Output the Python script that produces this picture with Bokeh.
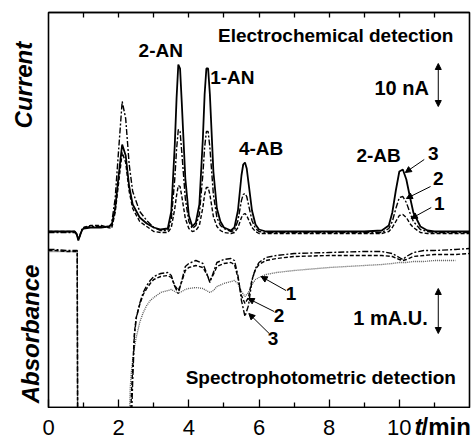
import math
from bokeh.plotting import figure
from bokeh.layouts import column, row
from bokeh.models import (Range1d, LinearAxis, FixedTicker, Label, Arrow,
                          NormalHead, ColumnDataSource)
from bokeh.core.properties import value
from bokeh.embed import file_html
from bokeh.resources import INLINE

nan = float("nan")

# ---------------- data (arbitrary signal units) -------------
# Electrochemical detection (upper trace block)
t_ec = [0, 0.5, 0.75, 0.8, 0.85, 0.9, 0.95, 1.0, 1.2, 1.5,
        1.7, 1.8, 1.9, 2.0, 2.1, 2.2, 2.3, 2.4, 2.6, 2.8,
        3.0, 3.2, 3.4, 3.5, 3.6, 3.65, 3.7, 3.75, 3.8, 3.9,
        4.0, 4.1, 4.2, 4.3, 4.4, 4.45, 4.5, 4.55, 4.6, 4.7,
        4.8, 4.9, 5.0, 5.2, 5.3, 5.4, 5.5, 5.55, 5.6, 5.65,
        5.7, 5.8, 5.9, 6.0, 6.2, 6.5, 7.0, 8.0, 9.0, 9.5,
        9.7, 9.8, 9.9, 10.0, 10.1, 10.2, 10.3, 10.4, 10.6, 10.8,
        11.0, 11.5, 12.0]
ec_3 = [176, 176, 176, 174, 167, 172, 177, 179, 180, 180,
        181, 182, 199, 232, 263, 252, 221, 203, 190, 184,
        180, 178, 179, 196, 263, 309, 343, 339, 304, 229,
        192, 181, 185, 203, 269, 313, 339, 339, 313, 236,
        199, 186, 180, 177, 180, 197, 232, 243, 245, 239,
        225, 197, 183, 178, 176, 176, 176, 176, 176, 177,
        182, 195, 217, 236, 238, 228, 211, 195, 181, 177,
        176, 176, 176]
ec_2 = [175, 175, 175, 173, 168, 173, 178, 180, 181, 181,
        180, 184, 209, 258, 306, 289, 243, 216, 196, 187,
        180, 177, 177, 188, 229, 258, 278, 276, 255, 209,
        186, 179, 182, 193, 233, 260, 276, 276, 260, 213,
        190, 182, 179, 176, 177, 187, 207, 213, 214, 211,
        203, 187, 179, 176, 175, 175, 175, 175, 175, 175,
        179, 186, 199, 210, 211, 205, 195, 186, 178, 176,
        175, 175, 175]
ec_1 = [176, 176, 176, 174, 168, 172, 177, 180, 182, 182,
        180, 179, 195, 225, 255, 245, 216, 199, 186, 181,
        176, 175, 175, 180, 199, 212, 222, 221, 211, 189,
        179, 176, 177, 182, 200, 213, 220, 220, 213, 191,
        181, 177, 175, 174, 175, 180, 190, 193, 194, 192,
        188, 180, 176, 174, 174, 174, 174, 174, 174, 174,
        176, 180, 186, 192, 193, 190, 184, 180, 175, 174,
        174, 174, 174]

# Spectrophotometric detection (lower trace block)
t_uv = [0, 0.2, 0.5, 0.82, 0.83, 1.5, 2.3, 2.33, 2.36, 2.4,
        2.45, 2.5, 2.6, 2.7, 2.8, 2.9, 3.0, 3.2, 3.4, 3.5,
        3.6, 3.7, 3.8, 3.9, 4.0, 4.2, 4.4, 4.5, 4.6, 4.7,
        4.8, 5.0, 5.2, 5.3, 5.4, 5.5, 5.6, 5.7, 5.8, 5.9,
        6.0, 6.2, 6.5, 7.0, 8.0, 9.0, 9.5, 9.8, 10.0, 10.1,
        10.2, 10.4, 10.7, 11.0, 11.6, 12.0]
uv_3 = [158, 158, 157, 157, -20, -20, -20, -20, -20, 27,
        72, 89, 104, 115, 122, 127, 131, 134, 135, 132,
        121, 114, 127, 141, 144, 147, 144, 135, 125, 135,
        145, 148, 149, 147, 132, 107, 91, 102, 127, 139,
        145, 150, 152, 154, 155, 156, 156, 154, 150, 148,
        151, 155, 157, 157, 158, 159]
uv_2 = [157, 157, 156, 156, -20, -20, -20, -20, 10, 40,
        75, 90, 103, 113, 119, 124, 128, 131, 132, 130,
        122, 117, 126, 137, 140, 142, 140, 134, 127, 133,
        141, 144, 145, 143, 130, 112, 104, 110, 128, 138,
        143, 147, 149, 151, 152, 152, 152, 151, 148, 147,
        148, 151, 152, 153, 153, 154]
uv_1 = [156, 156, 156, 156, -20, -20, -20, 20, 35, 48,
        60, 70, 85, 95, 102, 107, 110, 115, 117, 118,
        116, 114, 116, 118, 119, 120, 119, 117, 115, 117,
        121, 124, 126, 127, 124, 116, 111, 115, 123, 128,
        130, 133, 135, 137, 140, 142, 143, 144, 145, 145,
        145, 146, 146, 147, 147, nan]

x_ticks = [0, 2, 4, 6, 8, 10]
x_tick_labels = ["0", "2", "4", "6", "8", "10"]
x_minor = [1, 3, 5, 7, 9, 11]
top_ticks = [1, 2, 3, 4, 5, 6, 7, 8, 9, 10, 11]

# ---------------- layout geometry ----------------------------------------------------
FONT = "Liberation Sans"
W, H = 473, 439
LEFT = 48          # page x of the frame's left edge
RIGHT = 4          # space right of the frame
TOP = 12
MAIN_H = 408       # frame bottom at page y 407
STRIP = H - MAIN_H # bottom label strip
X0, X1 = 0.0, 12.0
PX_PER_MIN = (W - LEFT - RIGHT) / (X1 - X0)
LABEL_MID = 427    # page y of the middle of the bottom labels

# ---------------- main figure --------------------------------------------------------
p = figure(width=W - LEFT + 1, height=MAIN_H, output_backend="svg",
           toolbar_location=None, y_axis_location=None,
           x_range=Range1d(X0, X1), y_range=Range1d(0, 395),
           min_border_left=1, min_border_right=RIGHT, min_border_top=TOP,
           min_border_bottom=1)
p.grid.visible = False
p.outline_line_color = "black"
p.outline_line_width = 1.6
p.background_fill_color = "white"
p.border_fill_color = "white"

xa = p.xaxis[0]
xa.ticker = FixedTicker(ticks=x_ticks, minor_ticks=x_minor)
xa.axis_line_width = 1.6
xa.major_tick_in = 8
xa.major_tick_out = 0
xa.minor_tick_in = 5
xa.minor_tick_out = 0
xa.major_tick_line_width = 1.3
xa.minor_tick_line_width = 1.3
xa.major_label_text_font_size = "0px"
xa.major_label_text_color = None
xa.major_label_standoff = 0

top = LinearAxis(ticker=FixedTicker(ticks=top_ticks))
top.major_label_text_font_size = "0px"
top.major_label_text_color = None
top.major_label_standoff = 0
top.major_tick_in = 5
top.major_tick_out = 0
top.minor_tick_in = 0
top.minor_tick_out = 0
top.major_tick_line_width = 1.3
top.axis_line_width = 1.6
p.add_layout(top, "above")

src_ec = ColumnDataSource(dict(t=t_ec, e1=ec_1, e2=ec_2, e3=ec_3))
src_uv = ColumnDataSource(dict(t=t_uv, u1=uv_1, u2=uv_2, u3=uv_3))

p.line("t", "e1", source=src_ec, color="black", line_width=1.4, line_dash="4 2")
p.line("t", "e2", source=src_ec, color="black", line_width=1.4, line_dash="6 2 2 2")
p.line("t", "e3", source=src_ec, color="black", line_width=1.8)

p.line("t", "u1", source=src_uv, color="#555555", line_width=1.3, line_dash="1 1")
p.line("t", "u2", source=src_uv, color="black", line_width=1.4, line_dash="4 2")
p.line("t", "u3", source=src_uv, color="black", line_width=1.4, line_dash="6 2 2 2")


def lab(x, y, text, size="19px", style="bold", align="left"):
    p.add_layout(Label(x=x, y=y, text=text, text_font=FONT, text_font_size=size,
                       text_font_style=style, text_align=align, text_baseline="middle",
                       text_color="black"))


lab(3.2, 357, "2-AN", align="center")
lab(5.24, 330, "1-AN", align="center")
lab(4.83, 372, "Electrochemical detection")
lab(9.29, 320, "10 nA", size="20px")
lab(6.06, 259, "4-AB", align="center")
lab(9.41, 252, "2-AB", align="center")
lab(10.97, 254, "3", align="center")
lab(11.11, 229, "2", align="center")
lab(11.14, 204, "1", align="center")
lab(6.91, 114, "1", align="center")
lab(6.57, 92, "2", align="center")
lab(6.40, 69, "3", align="center")
lab(8.69, 90, "1 mA.U.", size="20px")
lab(3.91, 30, "Spectrophotometric detection")


def arr(x0, y0, x1, y1, both=False):
    head = NormalHead(size=6, fill_color="black", line_color="black")
    start = NormalHead(size=6, fill_color="black", line_color="black") if both else None
    p.add_layout(Arrow(x_start=x0, y_start=y0, x_end=x1, y_end=y1, end=head,
                       start=start, line_color="black", line_width=1.0))


arr(11.11, 301, 11.11, 344, both=True)
arr(11.11, 74, 11.11, 119, both=True)
arr(10.71, 248, 10.17, 235)
arr(10.89, 221, 10.20, 209)
arr(10.91, 200, 10.34, 189)
arr(6.77, 117, 6.06, 131)
arr(6.43, 96, 5.69, 109)
arr(6.29, 74, 5.71, 94)

# ---------------- left strip with the two rotated titles ----------------------------
left = figure(width=LEFT - 1, height=MAIN_H, output_backend="svg",
              toolbar_location=None, x_axis_location=None, y_axis_location=None,
              x_range=Range1d(0, LEFT - 1), y_range=Range1d(0, MAIN_H),
              min_border=0)
left.grid.visible = False
left.outline_line_color = None
left.text(x=[23], y=[MAIN_H - 75], text=["Current"], angle=[math.pi / 2],
          text_font=value(FONT), text_font_size="24px", text_font_style="bold italic",
          text_align="center", text_baseline="middle", text_color="black")
left.text(x=[30], y=[MAIN_H - 332], text=["Absorbance"], angle=[math.pi / 2],
          text_font=value(FONT), text_font_size="24px", text_font_style="bold italic",
          text_align="center", text_baseline="middle", text_color="black")

# ---------------- bottom strip: tick labels and the axis title ----------------------
bx0 = X0 - LEFT / PX_PER_MIN
bx1 = X1 + RIGHT / PX_PER_MIN
bottom = figure(width=W, height=STRIP, output_backend="svg",
                toolbar_location=None, x_axis_location=None, y_axis_location=None,
                x_range=Range1d(bx0, bx1), y_range=Range1d(0, STRIP), min_border=0)
bottom.grid.visible = False
bottom.outline_line_color = None
ymid = H - LABEL_MID
bottom.text(x=x_ticks, y=[ymid] * len(x_ticks), text=x_tick_labels,
            text_font=value(FONT), text_font_size="22px", text_align="center",
            text_baseline="middle", text_color="black")
bottom.text(x=[X0 + (414 - LEFT) / PX_PER_MIN], y=[ymid + 1], text=["t"],
            text_font=value(FONT), text_font_size="24px", text_font_style="bold italic",
            text_align="left", text_baseline="middle", text_color="black")
bottom.text(x=[X0 + (421 - LEFT) / PX_PER_MIN], y=[ymid + 1], text=["/min"],
            text_font=value(FONT), text_font_size="24px", text_font_style="bold",
            text_align="left", text_baseline="middle", text_color="black")

layout = column(row(left, p, spacing=0), bottom, spacing=0)

open("out.html", "w").write(file_html(layout, INLINE))
